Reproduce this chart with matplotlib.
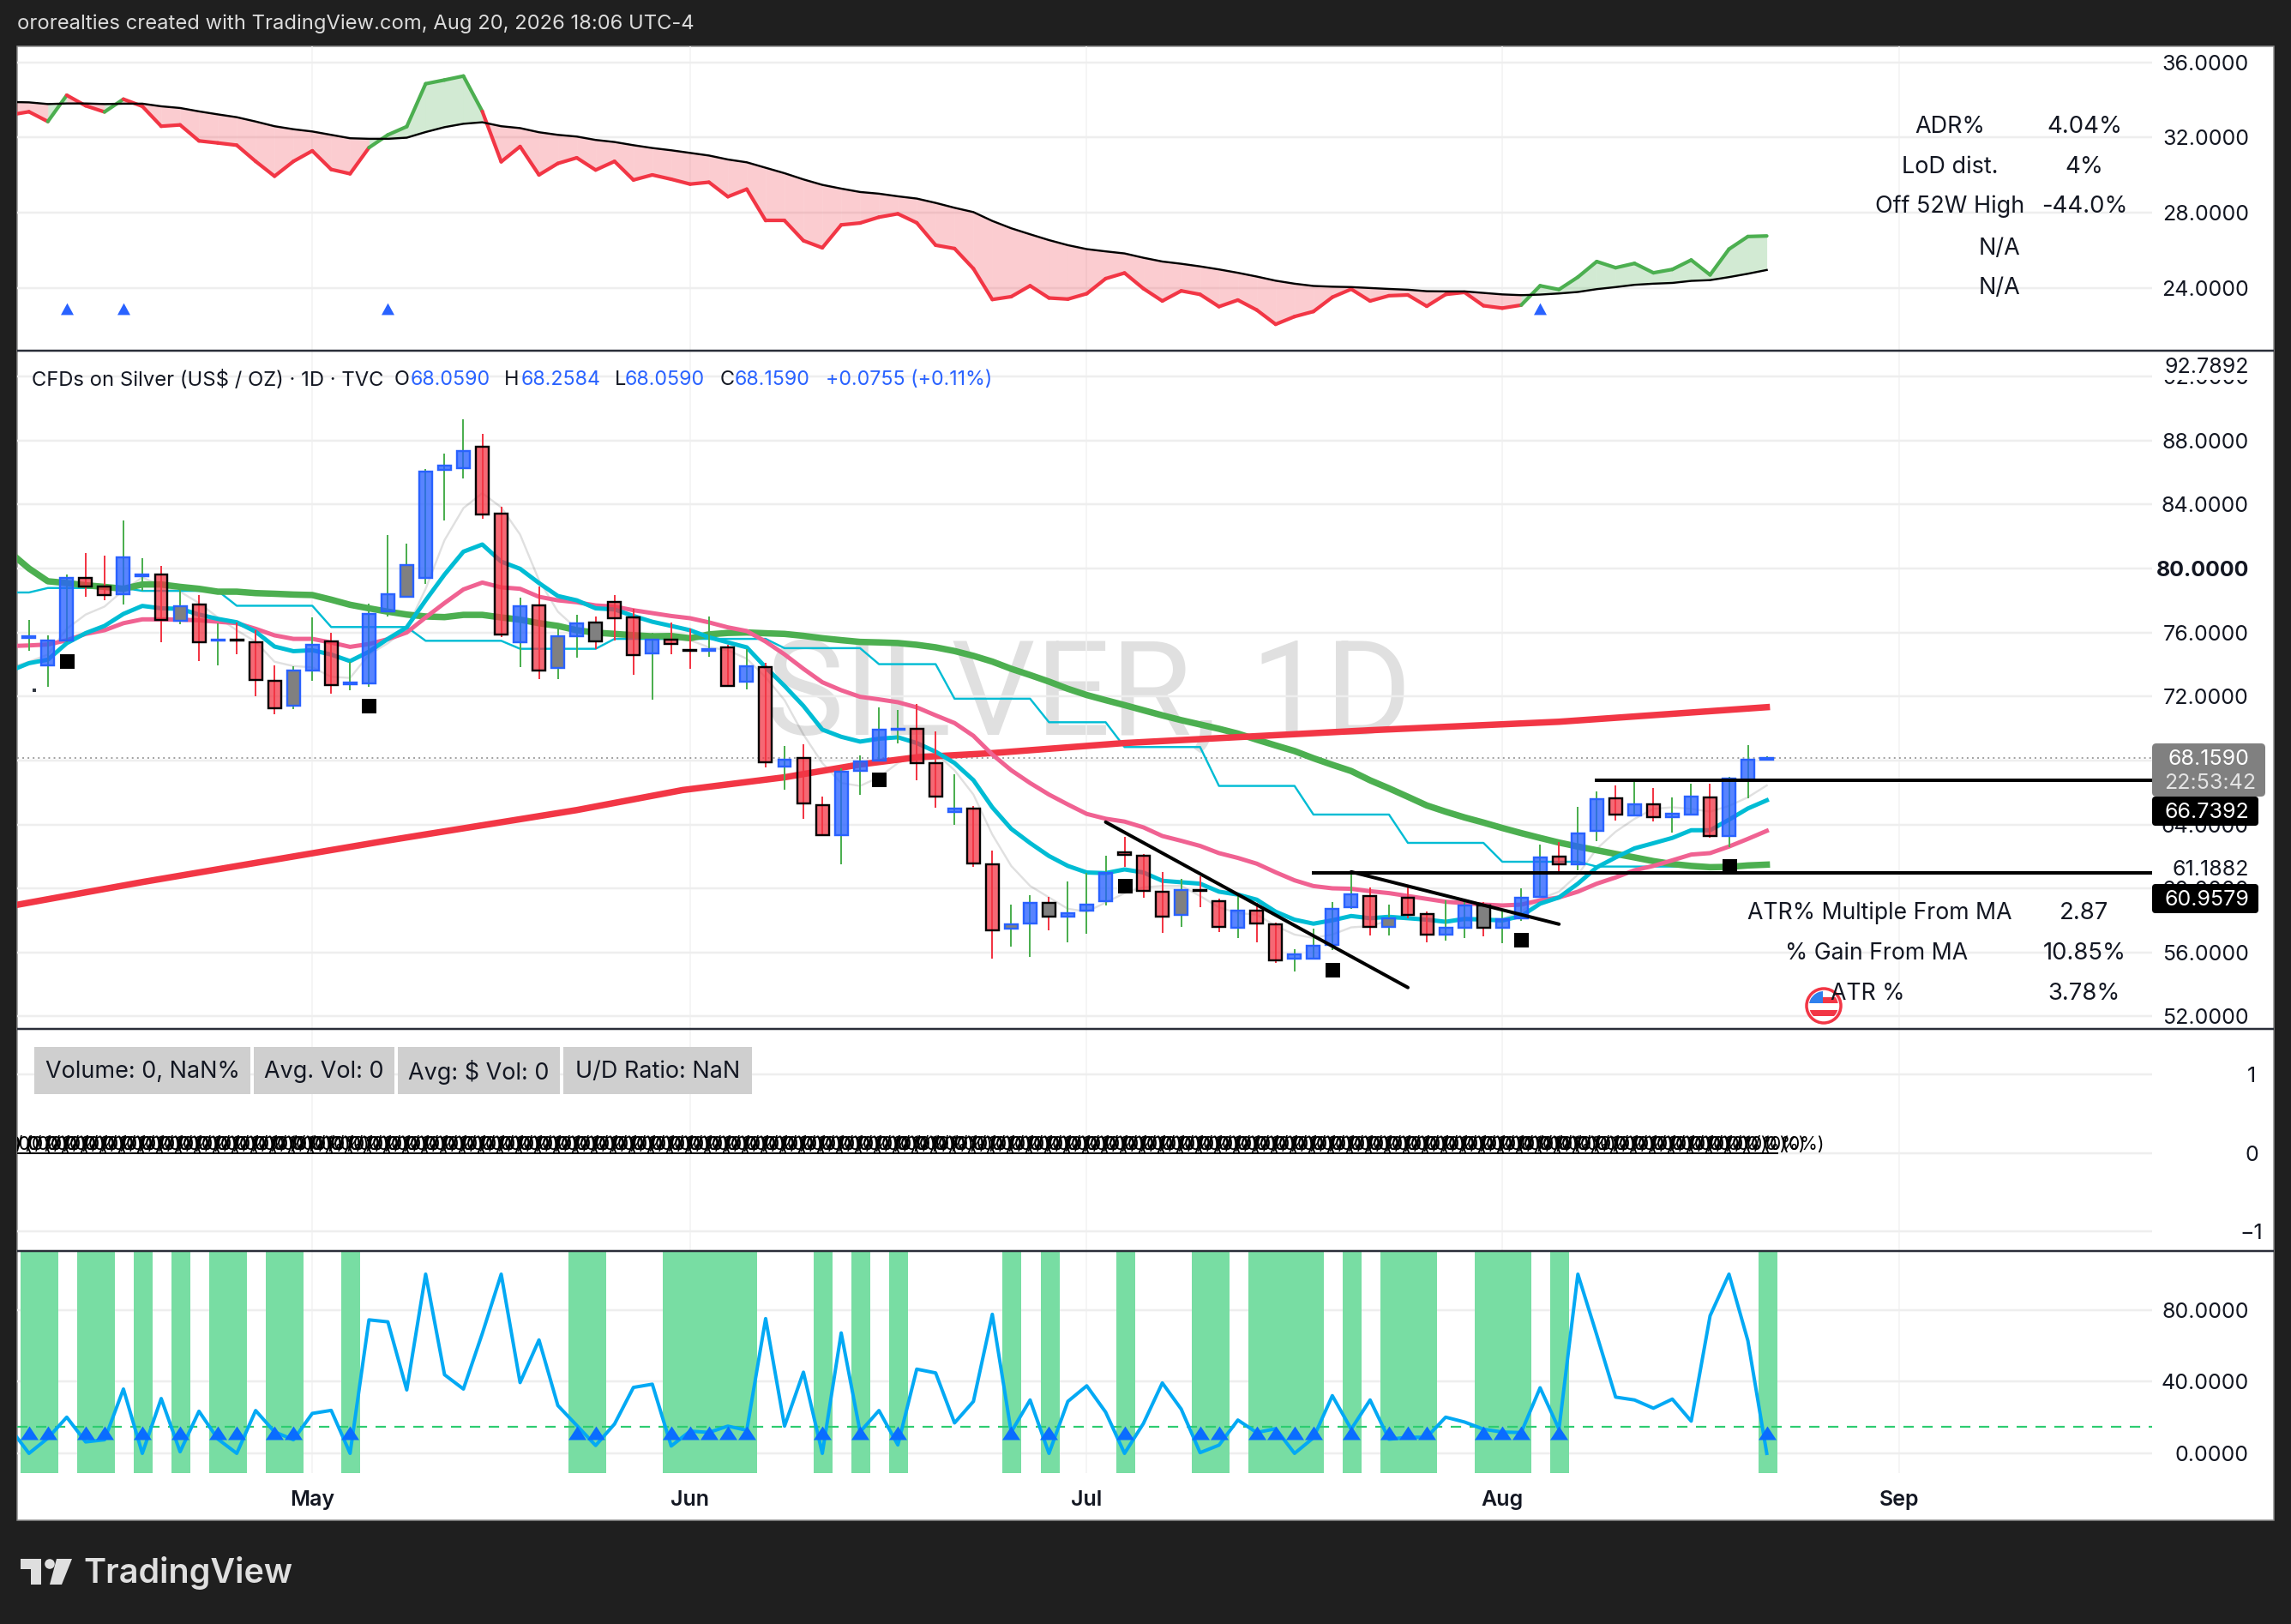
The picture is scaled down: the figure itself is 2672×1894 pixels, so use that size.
import numpy as np
import matplotlib
matplotlib.use('Agg')
import matplotlib.pyplot as plt
from matplotlib.patches import Rectangle, Polygon, Circle, FancyBboxPatch

W, H = 2672, 1894
PX = 0.72  # points per pixel at dpi 100
plt.rcParams['font.family'] = ['Inter', 'DejaVu Sans']

opens = [75.68, 73.94, 75.48, 79.41, 78.87, 78.39, 79.54, 79.62, 76.71, 77.75, 75.50, 75.56, 75.41, 72.99, 71.42, 73.60,
         75.46, 72.79, 72.80, 77.34, 78.23, 79.41, 86.14, 86.25, 87.63, 83.44, 75.37, 77.69, 73.76, 75.75, 76.62, 77.92,
         76.94, 74.67, 75.55, 74.91, 74.83, 75.09, 72.91, 73.86, 67.61, 68.16, 65.23, 63.32, 67.37, 67.99, 69.90, 69.98,
         67.86, 64.77, 65.02, 61.53, 57.48, 57.80, 59.12, 58.23, 58.60, 59.19, 62.28, 62.07, 59.82, 58.35, 59.90, 59.23,
         57.53, 58.62, 57.78, 55.60, 55.60, 56.46, 58.82, 59.55, 57.58, 59.44, 58.42, 57.10, 57.53, 58.96, 57.53, 58.12,
         59.49, 62.01, 61.49, 63.58, 65.66, 64.55, 65.28, 64.44, 64.60, 65.69, 63.26, 66.84, 68.059]
highs = [76.76, 75.82, 79.62, 80.96, 80.80, 83.00, 80.64, 80.16, 78.73, 78.34, 76.58, 76.62, 76.14, 73.94, 73.87, 76.94,
         75.98, 74.17, 77.80, 82.09, 81.55, 86.20, 87.16, 89.32, 88.41, 83.84, 78.16, 78.87, 76.55, 77.08, 76.98, 78.34,
         77.48, 75.98, 76.62, 76.23, 77.00, 75.25, 74.98, 74.09, 68.91, 69.00, 65.73, 67.52, 68.32, 71.32, 71.14, 71.52,
         69.80, 67.12, 65.16, 62.35, 58.99, 59.57, 59.48, 60.42, 60.96, 62.03, 63.23, 62.16, 61.01, 60.60, 60.78, 59.35,
         59.66, 59.08, 57.87, 56.19, 57.48, 59.17, 61.09, 60.07, 59.00, 60.07, 58.55, 59.26, 59.35, 59.15, 58.60, 60.01,
         62.74, 62.92, 65.10, 66.09, 66.44, 66.76, 66.28, 65.69, 66.55, 66.55, 66.98, 68.96, 68.2584]
lows = [74.83, 72.62, 75.40, 78.25, 78.01, 77.76, 78.60, 75.41, 76.53, 74.23, 73.96, 74.66, 72.03, 70.87, 71.23, 72.99,
        72.19, 72.41, 72.62, 77.01, 78.16, 79.05, 83.02, 85.62, 83.11, 75.73, 73.85, 73.10, 73.10, 74.44, 74.94, 75.51,
        73.37, 71.82, 74.62, 73.73, 74.50, 72.64, 72.45, 67.57, 66.19, 64.37, 63.34, 61.53, 65.87, 67.99, 69.09, 66.77,
        65.05, 64.00, 61.37, 55.64, 56.37, 55.74, 57.39, 56.66, 57.19, 58.94, 61.35, 59.44, 57.24, 57.62, 58.85, 57.30,
        56.89, 56.66, 55.37, 54.80, 55.55, 56.14, 58.74, 57.08, 57.08, 58.14, 56.65, 56.76, 56.92, 57.01, 56.58, 57.98,
        59.40, 60.87, 61.14, 62.98, 64.25, 64.55, 64.19, 63.51, 64.60, 63.16, 62.58, 65.66, 68.059]
closes = [75.74, 75.48, 79.43, 78.87, 78.34, 80.69, 79.60, 76.78, 77.66, 75.39, 75.56, 75.50, 73.03, 71.26, 73.64, 75.25,
          72.71, 72.85, 77.17, 78.41, 80.23, 86.07, 86.45, 87.36, 83.37, 75.87, 77.66, 73.62, 75.78, 76.58, 75.44, 76.89,
          74.58, 75.57, 75.28, 74.85, 74.95, 72.64, 73.88, 67.89, 68.07, 65.32, 63.34, 67.32, 67.96, 69.94, 69.96, 67.84,
          65.75, 64.98, 61.55, 57.39, 57.78, 59.12, 58.25, 58.48, 59.01, 60.96, 62.09, 59.85, 58.25, 59.92, 59.84, 57.60,
          58.64, 57.82, 55.53, 55.87, 56.44, 58.74, 59.66, 57.58, 58.15, 58.37, 57.12, 57.56, 58.96, 57.55, 58.10, 59.44,
          61.96, 61.49, 63.42, 65.60, 64.60, 65.25, 64.46, 64.66, 65.73, 63.26, 66.85, 68.03, 68.159]
grey_bars = [8, 14, 20, 28, 30, 52, 54, 61, 72, 77]

# daily lines start one bar before the first candle
ma_green = [81.0, 80.0, 79.2, 79.09, 78.95, 78.85, 78.73, 79.0, 79.0, 78.85, 78.73, 78.55, 78.55, 78.46, 78.42, 78.37,
            78.34, 78.05, 77.73, 77.51, 77.30, 77.12, 77.0, 76.96, 77.1, 77.1, 76.94, 76.8, 76.58, 76.41, 76.14, 75.99,
            75.91, 75.83, 75.76, 75.78, 75.64, 75.88, 75.97, 76.0, 75.95, 75.91, 75.79, 75.64, 75.52, 75.41, 75.38, 75.34,
            75.23, 75.07, 74.84, 74.54, 74.18, 73.73, 73.34, 72.93, 72.48, 72.09, 71.77, 71.46, 71.14, 70.82, 70.52, 70.25,
            69.98, 69.68, 69.30, 68.94, 68.59, 68.14, 67.73, 67.34, 66.76, 66.26, 65.73, 65.19, 64.80, 64.44, 64.12, 63.78,
            63.46, 63.16, 62.87, 62.62, 62.39, 62.16, 61.94, 61.71, 61.53, 61.41, 61.33, 61.35, 61.44, 61.49]
ema_pink = [75.15, 75.19, 75.25, 75.51, 75.91, 76.14, 76.58, 76.82, 76.82, 76.8, 76.76, 76.67, 76.58, 76.23, 75.82, 75.6,
            75.6, 75.37, 75.1, 75.28, 75.58, 76.0, 76.94, 77.84, 78.69, 79.12, 78.82, 78.73, 78.23, 78.01, 77.89, 77.69,
            77.62, 77.39, 77.21, 77.03, 76.89, 76.63, 76.32, 76.09, 75.43, 74.63, 73.73, 72.89, 72.39, 71.98, 71.82, 71.64,
            71.32, 70.82, 70.34, 69.54, 68.37, 67.39, 66.59, 65.87, 65.25, 64.66, 64.36, 64.18, 63.82, 63.28, 62.98, 62.66,
            62.21, 61.91, 61.55, 61.01, 60.51, 60.15, 60.01, 59.98, 59.83, 59.71, 59.53, 59.35, 59.17, 59.08, 58.99, 58.94,
            58.99, 59.26, 59.44, 59.80, 60.30, 60.69, 61.14, 61.41, 61.76, 62.12, 62.21, 62.62, 63.10, 63.60]
ema_cyan = [73.6, 74.08, 74.30, 75.33, 75.96, 76.41, 77.16, 77.66, 77.51, 77.48, 77.12, 76.85, 76.64, 76.05, 75.12, 74.83,
            74.89, 74.62, 74.21, 74.80, 75.6, 76.32, 78.01, 79.62, 81.05, 81.5, 80.43, 79.98, 79.09, 78.28, 78.01, 77.51,
            77.44, 77.03, 76.67, 76.41, 76.14, 75.70, 75.38, 75.07, 73.82, 72.66, 71.41, 69.93, 69.48, 69.18, 69.36, 69.45,
            69.09, 68.55, 67.84, 66.77, 65.07, 63.73, 62.84, 62.03, 61.41, 61.0, 60.96, 61.19, 61.0, 60.48, 60.39, 60.30,
            59.80, 59.62, 59.30, 58.55, 58.05, 57.80, 58.01, 58.28, 58.14, 58.23, 58.14, 58.05, 57.92, 58.10, 58.06, 58.0,
            58.28, 59.05, 59.44, 60.30, 61.32, 61.94, 62.51, 62.83, 63.16, 63.64, 63.64, 64.30, 65.0, 65.51]
sma_grey = [73.8, 74.17, 74.62, 76.23, 77.12, 77.62, 78.64, 79.44, 78.91, 78.55, 77.84, 76.94, 76.14, 75.42, 74.17, 73.9,
            73.82, 73.23, 73.16, 74.62, 75.33, 76.23, 78.73, 81.77, 83.77, 84.71, 83.82, 82.12, 79.27, 77.3, 76.23, 76.05,
            76.05, 75.69, 75.6, 75.55, 75.52, 75.07, 74.89, 74.36, 73.2, 71.77, 69.62, 67.84, 66.59, 66.41, 66.95, 67.84,
            68.37, 68.46, 67.39, 65.87, 63.37, 61.41, 60.16, 59.44, 58.73, 58.55, 59.12, 59.71, 60.07, 60.16, 60.16, 59.53,
            58.82, 58.46, 58.37, 57.66, 57.12, 56.91, 57.12, 57.57, 57.65, 58.0, 58.19, 58.0, 57.87, 58.0, 58.0, 58.1,
            58.55, 59.35, 59.8, 60.87, 62.48, 63.55, 64.35, 64.98, 65.07, 64.98, 64.8, 65.16, 65.7, 66.44]
ma200_idx = [-1, 6, 19, 29, 34.6, 40, 44, 47, 51, 58, 71, 81, 92]
ma200 = [58.9, 60.4, 63.0, 64.9, 66.15, 66.95, 67.75, 68.2, 68.46, 69.09, 69.89, 70.42, 71.33]
step_idx = [-1, 0, 1, 5, 6, 10, 11, 15, 16, 20, 21, 25, 26, 30, 31, 39, 40, 44, 45, 48, 49, 53, 54, 57, 58, 62, 63, 67,
            68, 72, 73, 77, 78, 82, 83, 92]
step_vals = [78.5, 78.5, 78.78, 78.78, 78.6, 78.6, 77.67, 77.67, 76.34, 76.34, 75.48, 75.48, 74.98, 74.98, 75.6, 75.6,
             75.02, 75.02, 74.02, 74.02, 71.86, 71.86, 70.39, 70.39, 68.84, 68.84, 66.41, 66.41, 64.62, 64.62, 62.85,
             62.85, 61.67, 61.67, 61.37, 61.37]

signal_square_idx = [2, 18, 45, 58, 69, 79, 90]
signal_square_px = [74.21, 71.42, 66.82, 60.19, 54.94, 56.80, 61.41]

trend1_x, trend1_y = [57, 73], [64.15, 53.81]
trend2_x, trend2_y = [70, 81], [61.04, 57.77]
level_hi, level_lo, last_price = 66.7392, 60.9579, 68.159

rs_line = [33.2, 33.37, 32.85, 34.25, 33.69, 33.36, 34.04, 33.66, 32.60, 32.67, 31.82, 31.71, 31.59, 30.73, 29.94, 30.73,
           31.29, 30.30, 30.07, 31.46, 32.14, 32.58, 34.86, 35.06, 35.27, 33.39, 30.71, 31.52, 30.01, 30.62, 30.92, 30.27,
           30.73, 29.74, 30.01, 29.78, 29.52, 29.62, 28.85, 29.25, 27.58, 27.58, 26.51, 26.13, 27.35, 27.45, 27.76, 27.94,
           27.46, 26.27, 26.09, 25.02, 23.38, 23.53, 24.11, 23.46, 23.40, 23.69, 24.49, 24.79, 23.96, 23.30, 23.84, 23.65,
           23.0, 23.35, 22.82, 22.06, 22.47, 22.74, 23.50, 23.93, 23.30, 23.58, 23.62, 23.02, 23.65, 23.76, 23.05, 22.92,
           23.08, 24.11, 23.91, 24.57, 25.40, 25.07, 25.30, 24.80, 24.98, 25.48, 24.69, 26.06, 26.73, 26.76]
rs_ma = [33.89, 33.87, 33.78, 33.81, 33.81, 33.78, 33.80, 33.80, 33.66, 33.57, 33.39, 33.23, 33.08, 32.85, 32.60, 32.44,
         32.32, 32.14, 31.96, 31.93, 31.93, 31.99, 32.29, 32.55, 32.73, 32.81, 32.60, 32.50, 32.28, 32.14, 32.05, 31.87,
         31.76, 31.59, 31.44, 31.32, 31.18, 31.04, 30.83, 30.68, 30.39, 30.10, 29.77, 29.48, 29.28, 29.10, 29.01, 28.87,
         28.75, 28.52, 28.26, 28.03, 27.56, 27.17, 26.85, 26.54, 26.27, 26.06, 25.94, 25.83, 25.6, 25.40, 25.28, 25.14,
         24.98, 24.80, 24.60, 24.38, 24.22, 24.10, 24.06, 24.04, 23.99, 23.94, 23.90, 23.82, 23.81, 23.81, 23.73, 23.65,
         23.61, 23.64, 23.70, 23.78, 23.93, 24.04, 24.16, 24.22, 24.26, 24.37, 24.41, 24.57, 24.75, 24.95]
rs_arrows_idx = [2, 5, 19, 80]
rs_arrow_level = 22.89

osc_line = [14, 0, 8.5, 20.2, 6.4, 7.6, 35.9, 0, 30.6, 0.9, 23.5, 8, 0, 23.9, 12, 7.6, 22.3, 24, 0, 74.5, 73.4, 35.4, 100,
            43.9, 35.9, 66.9, 100, 39.5, 63.3, 26.7, 15.6, 4.4, 16.4, 36.8, 38.6, 4.1, 12.4, 11.7, 15.2, 12.9, 75.2, 15.2,
            45.3, 0, 67.2, 12, 23.9, 4.7, 47, 44.9, 17, 29, 77.6, 11.9, 29.8, 0, 29, 37.7, 23, 0, 16.7, 39.3, 24.7, 0.4,
            4.6, 18.6, 11.6, 13.8, 0, 8.7, 32.2, 13.5, 29.8, 7.9, 9, 9, 20.2, 17.5, 13.5, 11.9, 11.6, 36.6, 13.5, 100,
            66.1, 31.4, 29.8, 25.2, 30.3, 18, 76.8, 100, 62.9, 0]
osc_signal_idx = [0, 1, 3, 4, 6, 8, 10, 11, 13, 14, 17, 29, 30, 34, 35, 36, 37, 38, 42, 44, 46, 52, 54, 58, 62, 63, 65, 66,
                  67, 68, 70, 72, 73, 74, 77, 78, 79, 81, 92]
osc_level = 15
osc_arrow_level = 11.6

month_idx = [15, 35, 56, 78, 99]
month_labels = ['May', 'Jun', 'Jul', 'Aug', 'Sep']
rs_ticks = [24, 28, 32, 36]
price_ticks = [52, 56, 60, 64, 68, 72, 76, 80, 84, 88, 92]
vol_ticks = [-1, 0, 1]
osc_ticks = [0, 40, 80]

BG = '#1f1f1f'
TXT = '#131722'
RED = '#f23645'
GREEN = '#4caf50'
BLUE = '#2962ff'

line_idx = np.arange(-1, 93)
bar_idx = np.arange(93)

fig = plt.figure(figsize=(W / 100, H / 100), dpi=100, facecolor=BG)

bg = fig.add_axes([0, 0, 1, 1], zorder=0)
bg.set_xlim(0, W)
bg.set_ylim(H, 0)
bg.axis('off')
bg.add_patch(Rectangle((20, 54), 2632, 1719, fc='white', ec='#8a8a8a', lw=1.5 * PX))
bg.text(1270, 814, 'SILVER, 1D', fontsize=111, family='Roboto', color='#e0e0e0', ha='center', va='center')


def pane(top, bottom, ylim, ticks, labels):
    ax = fig.add_axes([20 / W, 1 - bottom / H, 2490 / W, (bottom - top) / H], zorder=1)
    ax.patch.set_alpha(0)
    for s in ax.spines.values():
        s.set_visible(False)
    ax.set_xlim(-0.626, 112.4)
    ax.set_ylim(*ylim)
    ax.set_xticks(month_idx)
    ax.set_yticks(ticks)
    ax.set_yticklabels(labels)
    ax.yaxis.tick_right()
    ax.tick_params(length=0, labelbottom=False, labelsize=25 * PX, labelcolor=TXT, pad=113 * PX)
    for t in ax.get_yticklabels():
        t.set_ha('right')
    ax.grid(axis='y', color='#eeeeee', lw=2.5 * PX)
    ax.grid(axis='x', color='#f3f3f3', lw=1.5 * PX)
    ax.set_axisbelow(True)
    return ax


ax_rs = pane(54, 408, (20.70, 36.853), rs_ticks, ['%.4f' % t for t in rs_ticks])
ax = pane(409.5, 1199, (51.275, 93.584), price_ticks, ['%.4f' % t for t in price_ticks])
ax_vol = pane(1200, 1458, (-1.24, 1.58), vol_ticks, ['\u22121', '0', '1'])
ax_osc = pane(1460, 1718, (-11.0, 112.44), osc_ticks, ['%.4f' % t for t in osc_ticks])

for t in ax.get_yticklabels():
    if t.get_text() == '80.0000':
        t.set_fontweight('bold')
for t in ax_vol.get_yticklabels():
    t.set_ha('center')
ax_vol.tick_params(axis='y', pad=116 * PX)

# relative strength pane
for i in range(len(line_idx) - 1):
    above = rs_line[i + 1] >= rs_ma[i + 1]
    c = GREEN if above else RED
    xs = line_idx[i:i + 2]
    ax_rs.fill_between(xs, rs_line[i:i + 2], rs_ma[i:i + 2], color=c, alpha=0.25, lw=0, zorder=2)
    ax_rs.plot(xs, rs_line[i:i + 2], color=c, lw=4.2 * PX, solid_capstyle='round', zorder=3)
ax_rs.plot(line_idx, rs_ma, color='black', lw=2.4 * PX, zorder=4)
ax_rs.plot(rs_arrows_idx, [rs_arrow_level] * len(rs_arrows_idx), ls='none', color=BLUE, mew=0, ms=15 * PX,
           marker=[(-1, -0.92), (1, -0.92), (0, 0.92)], zorder=5)

# price pane
ax.axhline(last_price, color='#8c8c8c', lw=1.6 * PX, ls=(0, (1.2, 2.6)), zorder=1.5)
ax.plot(line_idx, sma_grey, color='black', alpha=0.12, lw=2.4 * PX, zorder=2)
ax.plot(step_idx, step_vals, color='#00bcd4', lw=2.4 * PX, zorder=2)
ax.plot(line_idx, ma_green, color=GREEN, lw=7.5 * PX, zorder=2)
ax.plot(ma200_idx, ma200, color=RED, lw=7.5 * PX, zorder=2.1)
ax.plot(line_idx, ema_pink, color='#f06292', lw=5 * PX, zorder=2.2)
ax.plot(line_idx, ema_cyan, color='#00bcd4', lw=5 * PX, zorder=2.3)

for i in bar_idx:
    up = closes[i] >= opens[i]
    ax.vlines(i, lows[i], highs[i], color=GREEN if up else RED, lw=2 * PX, zorder=3)
    if i in grey_bars:
        fill = '#808080'
    elif up:
        fill = (41 / 255, 98 / 255, 1, 0.78)
    else:
        fill = (242 / 255, 54 / 255, 69 / 255, 0.75)
    ax.bar(i, closes[i] - opens[i], bottom=opens[i], width=0.68, color=fill, edgecolor=BLUE if up else 'black',
           lw=2.4 * PX, zorder=4)

ax.plot(signal_square_idx, signal_square_px, 's', color='black', ms=17 * PX, mew=0, zorder=5)
ax.plot([0.27], [72.4], 's', color='#333842', ms=4 * PX, mew=0, zorder=5)
ax.plot(trend1_x, trend1_y, color='black', lw=4 * PX, solid_capstyle='round', zorder=6)
ax.plot(trend2_x, trend2_y, color='black', lw=4 * PX, solid_capstyle='round', zorder=6)
ax.plot([83, 112.4], [level_hi, level_hi], color='black', lw=4 * PX, zorder=6)
ax.plot([68, 112.4], [level_lo, level_lo], color='black', lw=4 * PX, zorder=6)

# volume pane, zero volume labels pile up on every bar
for i in line_idx:
    ax_vol.text(i, 0.044, '0 / 0 / 0 (0%)', fontsize=21 * PX, color='black', ha='center', va='baseline', clip_on=True)
ax_vol.plot([-1, 92.55], [0, 0], color='black', lw=2 * PX, zorder=3)

# oscillator pane
for i in osc_signal_idx:
    ax_osc.axvspan(i - 0.45, i + 0.55, color='#78dda3', lw=0, zorder=1)
ax_osc.axhline(osc_level, color='#2ecc71', lw=2.2 * PX, ls=(0, (5.5, 4.5)), zorder=2)
ax_osc.plot(line_idx, osc_line, color='#03a9f4', lw=4 * PX, zorder=3)
ax_osc.plot(osc_signal_idx, [osc_arrow_level] * len(osc_signal_idx), ls='none', color='#0a6cff', mew=0, ms=21 * PX,
            marker=[(-1, -0.76), (1, -0.76), (0, 0.76)], zorder=4)
ax_osc.set_xticklabels(month_labels, fontsize=25 * PX, fontweight='semibold', color=TXT)
ax_osc.tick_params(axis='x', labelbottom=True, pad=20 * PX)

# everything on top of the panes, placed in pixels
top = fig.add_axes([0, 0, 1, 1], zorder=5)
top.set_xlim(0, W)
top.set_ylim(H, 0)
top.axis('off')
top.patch.set_alpha(0)


def label(x, y, s, size=25, color=TXT, ha='center', **kw):
    top.text(x, y, s, fontsize=size * PX, color=color, ha=ha, va='center', **kw)


for y in (408.5, 1199.5, 1459):
    top.plot([20, 2652], [y, y], color='#2a2e39', lw=2.5 * PX, solid_capstyle='butt')

label(20, 28, 'ororealties created with TradingView.com, Aug 20, 2026 18:06 UTC-4', size=23.8, color='#dcdcdc', ha='left')

# stats tables
stats_rows = [(148, 'ADR%', '4.04%'), (195, 'LoD dist.', '4%'), (241, 'Off 52W High', '-44.0%')]
for y, a, b in stats_rows:
    label(2274, y, a, size=27)
    label(2431, y, b, size=27.5)
label(2332, 290, 'N/A', size=27)
label(2332, 336, 'N/A', size=27)
atr_rows = [(1065, 2192, 'ATR% Multiple From MA', '2.87'), (1112, 2189, '% Gain From MA', '10.85%'), (1159, 2178, 'ATR %', '3.78%')]

# legend
label(37, 443, 'CFDs on Silver (US$ / OZ) \u00b7 1D \u00b7 TVC', size=23.8, ha='left')
for x, s in [(460, 'O'), (588, 'H'), (717, 'L'), (840, 'C')]:
    label(x, 443, s, size=23.5, ha='left')
for x, s in [(479, '68.0590'), (608, '68.2584'), (729, '68.0590'), (857, '68.1590'), (963, '+0.0755 (+0.11%)')]:
    label(x, 443, s, size=23.2, color=BLUE, ha='left')

# price labels
top.add_patch(Rectangle((2512, 412), 125, 31, fc='white', ec='none'))
label(2623, 428, '92.7892', ha='right')
top.add_patch(FancyBboxPatch((2510, 867), 132, 62, boxstyle='round,pad=0,rounding_size=5', fc='#808080', ec='none'))
label(2623, 885, '68.1590', color='white', ha='right')
label(2631, 913, '22:53:42', color='#e4e4e4', ha='right')
for y0, s in [(929, '66.7392'), (1031, '60.9579')]:
    top.add_patch(FancyBboxPatch((2510, y0), 124, 34, boxstyle='round,pad=0,rounding_size=4', fc='black', ec='none'))
    label(2623, y0 + 18, s, color='white', ha='right')
label(2623, 1014, '61.1882', ha='right')

# flag
ring = Circle((2127, 1173), 20, fc='white', ec=RED, lw=3.5 * PX, zorder=3)
top.add_patch(ring)
inner = Circle((2127, 1173), 17, transform=top.transData)
for (x0, y0, w, h, c) in [(2110, 1163, 34, 7, RED), (2110, 1178, 34, 7, RED), (2110, 1156, 16, 14, '#2f80ed')]:
    r = Rectangle((x0, y0), w, h, fc=c, ec='none', zorder=3.1)
    top.add_patch(r)
    r.set_clip_path(inner)
for y, xc, a, b in atr_rows:
    label(xc, y, a, size=26.7, zorder=4)
    label(2431, y, b, size=27.5)

# volume boxes
boxes = [(40, 292, 'Volume: 0, NaN%'), (296, 460, 'Avg. Vol: 0'), (464, 653, 'Avg: $ Vol: 0'), (657, 877, 'U/D Ratio: NaN')]
for x0, x1, s in boxes:
    top.add_patch(Rectangle((x0, 1221), x1 - x0, 55, fc='#cfcfcf', ec='none'))
    label((x0 + x1) / 2, 1250, s, size=27)

# logo
LOGO = '#dfdfdf'
top.add_patch(Polygon([(24, 1818), (48, 1818), (48, 1848), (36, 1848), (36, 1830), (24, 1830)], fc=LOGO, ec='none'))
top.add_patch(Circle((58, 1824), 5.8, fc=LOGO, ec='none'))
top.add_patch(Polygon([(66, 1818), (84, 1818), (72, 1848), (58, 1848)], fc=LOGO, ec='none'))
label(97, 1834, 'TradingView', size=39.5, color=LOGO, ha='left', fontweight='semibold')

fig.savefig('out.png', dpi=100, facecolor=BG)
